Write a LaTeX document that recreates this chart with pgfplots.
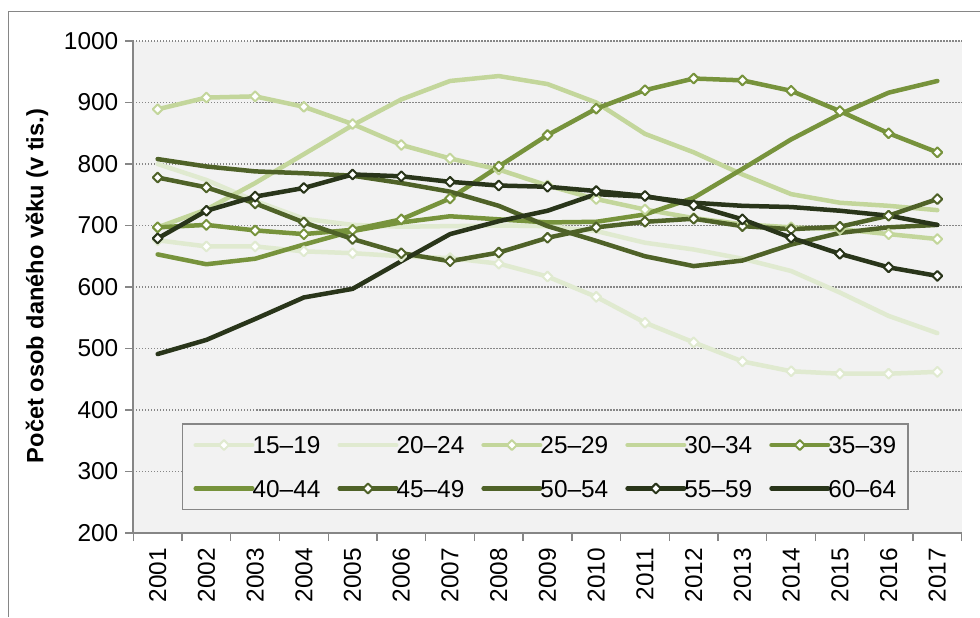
\documentclass[border=0pt]{standalone}
\usepackage{fontspec}
\setmainfont{Liberation Sans}
\usepackage{pgfplots}
\pgfplotsset{compat=1.18}

\definecolor{cA}{HTML}{E0EAD0}
\definecolor{cB}{HTML}{C3D69B}
\definecolor{cC}{HTML}{77933C}
\definecolor{cD}{HTML}{4F6228}
\definecolor{cE}{HTML}{29351A}
\definecolor{bgc}{HTML}{F2F2F2}
\definecolor{axc}{HTML}{868686}

\pgfplotsset{
  ln/.style={line width=2.25pt, color=#1, line join=round, line cap=round, mark=none},
  mk/.style={line width=2.25pt, color=#1, line join=round, line cap=round,
    mark=square*, mark size=1.75pt,
    mark options={rotate=45, fill=white, draw=#1, line width=1pt, solid}},
}

\begin{document}
\begin{tikzpicture}[font=\fontsize{12.2}{14}\selectfont]
\draw[axc, line width=0.7pt] (4.15pt,0pt) -- (4.15pt,302.65pt) -- (500pt,302.65pt);
\begin{axis}[
  at={(66.65pt,42pt)}, anchor=south west,
  scale only axis, width=414.2pt, height=246pt,
  xmin=0.5, xmax=17.5, ymin=200, ymax=1000,
  ytick={200,300,...,1000},
  xtick={0.5,1.5,...,17.5},
  x tick label as interval,
  xticklabels={2001,2002,2003,2004,2005,2006,2007,2008,2009,2010,2011,2012,2013,2014,2015,2016,2017},
  tick label style={font=\fontsize{12.2}{14}\selectfont},
  xticklabel style={rotate=90, anchor=east},
  yticklabel style={anchor=east},
  /pgf/number format/assume math mode=true,
  /pgf/number format/1000 sep={},
  axis background/.style={fill=bgc},
  axis x line*=bottom, axis y line*=left,
  axis line style={axc, line width=1pt, -},
  tick align=outside, major tick length=4pt,
  tick style={axc, line width=0.7pt},
  ymajorgrids,
  major grid style={axc, line width=0.6pt, dash pattern=on 0.6pt off 0.9pt},
  ylabel={\textbf{Počet osob daného věku (v tis.)}},
  ylabel style={at={(axis description cs:-0.1163,0.502)}, anchor=center,
    font=\fontsize{11.8}{14}\selectfont},
  legend columns=5,
  legend cell align=left,
  legend style={at={(axis description cs:0.0584,0.223)}, anchor=north west,
    font=\fontsize{12.2}{14}\selectfont,
    fill=bgc, draw=axc, line width=0.8pt, inner xsep=5.5pt, inner ysep=6.15pt,
    row sep=13pt, column sep=0pt,
    nodes={inner xsep=0.5pt, inner ysep=0pt, text height=8.7pt, text depth=0pt},
    /tikz/every odd column/.append style={column sep=-1.5pt},
    /tikz/every even column/.append style={column sep=8pt}},
  legend image code/.code={\draw[mark repeat=2, mark phase=2, #1]
    plot coordinates {(0pt,0pt) (14.15pt,0pt) (28.3pt,0pt)};},
]

% 15-19
\addplot[mk=cA] coordinates {(1,676) (2,666) (3,666) (4,658) (5,655) (6,650) (7,647) (8,638) (9,617) (10,584) (11,542) (12,510) (13,479) (14,463) (15,459) (16,459) (17,462)};
\addlegendentry{15–19}
% 20-24
\addplot[ln=cA] coordinates {(1,800) (2,774) (3,740) (4,711) (5,701) (6,698) (7,699) (8,700) (9,699) (10,691) (11,672) (12,661) (13,646) (14,626) (15,591) (16,553) (17,525)};
\addlegendentry{20–24}
% 25-29
\addplot[mk=cB] coordinates {(1,889) (2,908) (3,910) (4,893) (5,865) (6,831) (7,809) (8,791) (9,765) (10,743) (11,726) (12,712) (13,702) (14,697) (15,694) (16,686) (17,678)};
\addlegendentry{25–29}
% 30-34
\addplot[ln=cB] coordinates {(1,697) (2,726) (3,769) (4,816) (5,863) (6,905) (7,935) (8,943) (9,930) (10,900) (11,849) (12,819) (13,783) (14,751) (15,737) (16,732) (17,725)};
\addlegendentry{30–34}
% 35-39
\addplot[mk=cC] coordinates {(1,697) (2,701) (3,692) (4,686) (5,693) (6,710) (7,744) (8,796) (9,847) (10,890) (11,920) (12,939) (13,936) (14,919) (15,886) (16,850) (17,819)};
\addlegendentry{35–39}
% 40-44
\addplot[ln=cC] coordinates {(1,653) (2,637) (3,646) (4,669) (5,691) (6,705) (7,715) (8,710) (9,705) (10,706) (11,718) (12,745) (13,792) (14,840) (15,881) (16,916) (17,935)};
\addlegendentry{40–44}
% 45-49
\addplot[mk=cD] coordinates {(1,778) (2,762) (3,736) (4,705) (5,678) (6,655) (7,642) (8,656) (9,680) (10,697) (11,706) (12,711) (13,699) (14,694) (15,698) (16,716) (17,743)};
\addlegendentry{45–49}
% 50-54
\addplot[ln=cD] coordinates {(1,808) (2,796) (3,788) (4,785) (5,781) (6,769) (7,755) (8,732) (9,699) (10,675) (11,650) (12,634) (13,643) (14,669) (15,688) (16,697) (17,701)};
\addlegendentry{50–54}
% 55-59
\addplot[mk=cE] coordinates {(1,679) (2,724) (3,747) (4,761) (5,783) (6,780) (7,771) (8,765) (9,763) (10,756) (11,748) (12,733) (13,710) (14,680) (15,654) (16,632) (17,618)};
\addlegendentry{55–59}
% 60-64
\addplot[ln=cE] coordinates {(1,491) (2,514) (3,548) (4,583) (5,597) (6,642) (7,686) (8,707) (9,724) (10,751) (11,747) (12,737) (13,732) (14,730) (15,724) (16,716) (17,701)};
\addlegendentry{60–64}

\end{axis}
\pgfresetboundingbox
\path (0pt,0pt) rectangle (490pt,308.5pt);
\end{tikzpicture}
\end{document}
